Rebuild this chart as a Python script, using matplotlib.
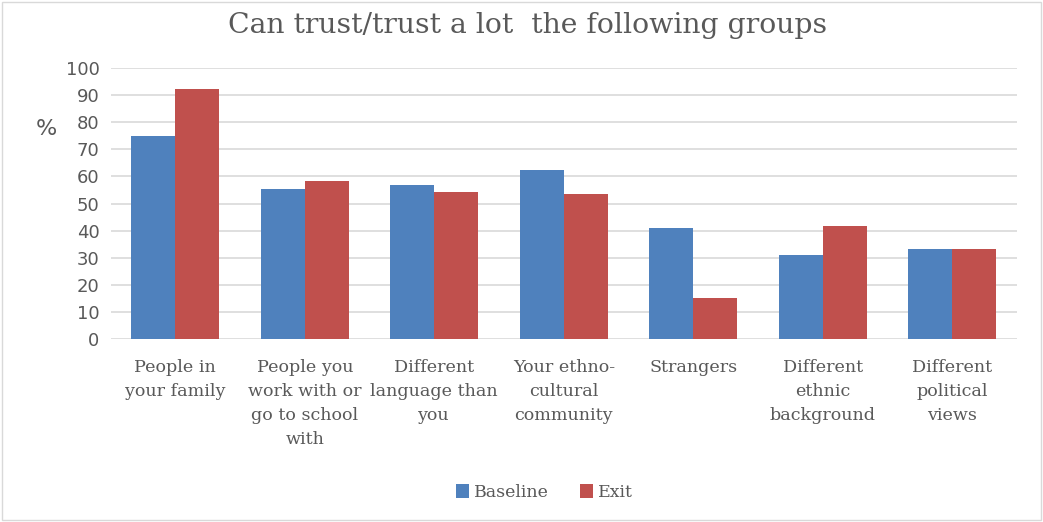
import matplotlib
matplotlib.use("Agg")
import matplotlib.pyplot as plt
import numpy as np

categories = [
    "People in\nyour family",
    "People you\nwork with or\ngo to school\nwith",
    "Different\nlanguage than\nyou",
    "Your ethno-\ncultural\ncommunity",
    "Strangers",
    "Different\nethnic\nbackground",
    "Different\npolitical\nviews",
]
baseline = [74.8, 55.5, 56.9, 62.2, 41.0, 30.9, 33.1]
exit_vals = [92.1, 58.2, 54.2, 53.6, 15.2, 41.6, 33.1]
yticks = list(range(0, 101, 10))

blue = "#4f81bd"
red = "#c0504d"
grey_text = "#595959"

fig = plt.figure(figsize=(10.43, 5.22), dpi=100)
fig.patch.set_facecolor("white")
ax = fig.add_axes([0.106, 0.350, 0.869, 0.520])

x = np.arange(len(categories))
w = 0.34
ax.bar(x - w / 2, baseline, w, color=blue, label="Baseline", zorder=3)
ax.bar(x + w / 2, exit_vals, w, color=red, label="Exit", zorder=3)

ax.set_xlim(-0.5, len(categories) - 0.5)
ax.set_ylim(0, 100)
ax.set_yticks(yticks)
ax.set_yticklabels([str(v) for v in yticks], fontsize=13, color=grey_text,
                   family="DejaVu Sans")
ax.set_xticks(x)
ax.set_xticklabels(categories, fontsize=12.6, color=grey_text,
                   family="DejaVu Serif", linespacing=1.55)
ax.tick_params(axis="both", length=0)
ax.tick_params(axis="x", pad=14)
ax.tick_params(axis="y", pad=8)
ax.grid(axis="y", color="#d9d9d9", linewidth=1.2, zorder=0)
for s in ax.spines.values():
    s.set_visible(False)

fig.text(0.034, 0.752, "%", fontsize=16, color=grey_text, family="DejaVu Sans",
         ha="left", va="center")

fig.text(0.506, 0.952, "Can trust/trust a lot  the following groups",
         fontsize=20.3, color=grey_text, family="DejaVu Serif",
         ha="center", va="center")

leg = fig.legend(loc="center", bbox_to_anchor=(0.522, 0.057), ncol=2,
                 frameon=False, handlelength=0.75, handleheight=0.9,
                 handletextpad=0.3, columnspacing=1.8,
                 prop={"family": "DejaVu Serif", "size": 12.5})
for t in leg.get_texts():
    t.set_color(grey_text)

border = plt.Rectangle((0.002, 0.004), 0.996, 0.992, transform=fig.transFigure,
                       fill=False, edgecolor="#d9d9d9", linewidth=1)
fig.add_artist(border)

fig.savefig("out.png", dpi=100)
